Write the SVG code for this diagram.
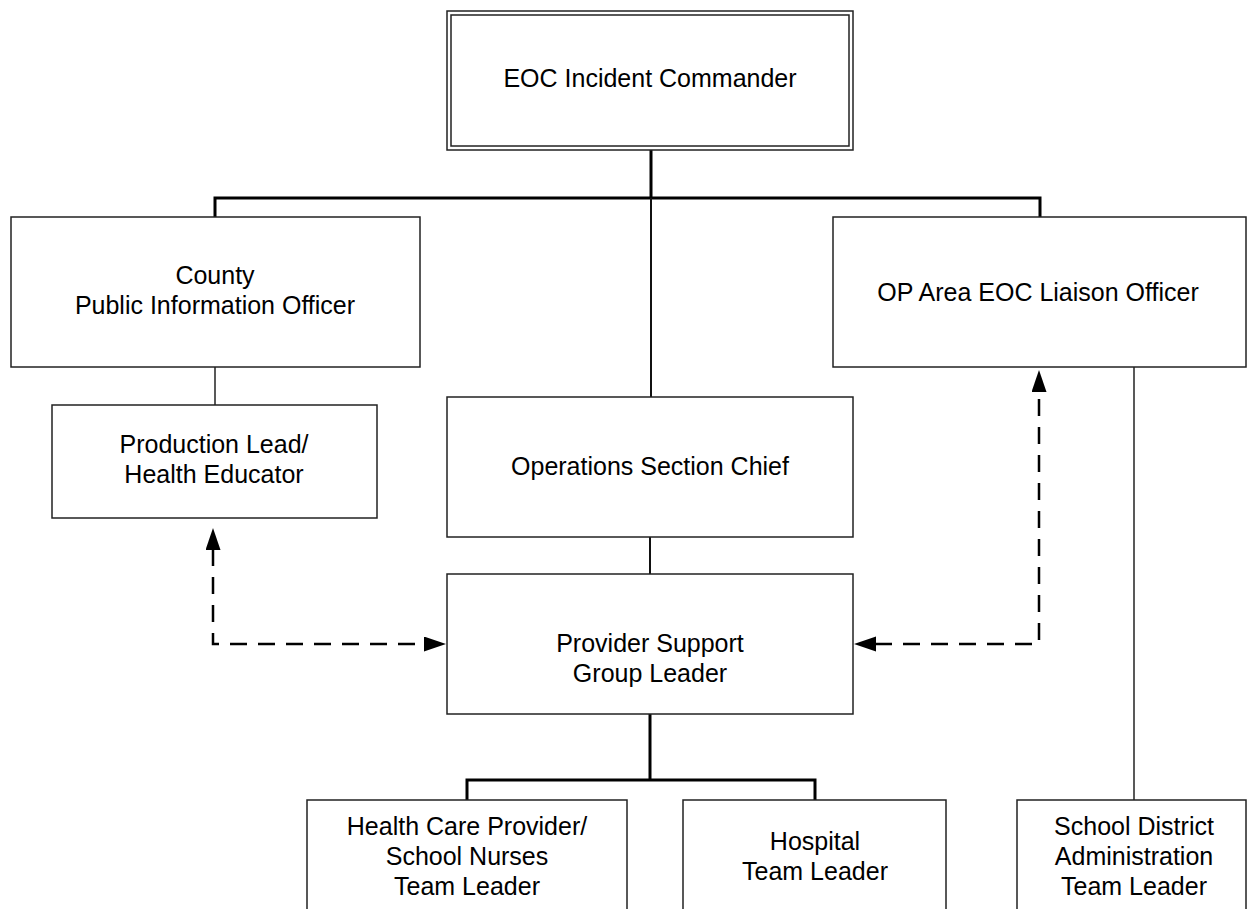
<svg xmlns="http://www.w3.org/2000/svg" width="1247" height="909" viewBox="0 0 1247 909">
  <style>
    .box { fill: #ffffff; stroke: #222222; stroke-width: 1.5; }
    .label { font-family: "Liberation Sans", Arial, sans-serif; font-size: 25px; fill: #000000; text-anchor: middle; }
    .thick { fill: none; stroke: #000000; stroke-width: 3; }
    .mid { fill: none; stroke: #111111; stroke-width: 2; }
    .thin { fill: none; stroke: #222222; stroke-width: 1.5; }
    .dash { fill: none; stroke: #000000; stroke-width: 2.5; stroke-dasharray: 17 11; marker-start: url(#head); marker-end: url(#head); }
  </style>
  <defs>
    <marker id="head" markerUnits="userSpaceOnUse" markerWidth="24" markerHeight="16" refX="1" refY="7.5" orient="auto-start-reverse">
      <path d="M0,0 L22,7.5 L0,15 Z" fill="#000000"/>
    </marker>
  </defs>
  <rect width="1247" height="909" fill="#ffffff"/>

  <!-- connectors -->
  <g id="connectors">
    <path class="thick" d="M651,150 V198"/>
    <path class="thick" d="M215,217 V198 H1040 V217"/>
    <path class="mid" d="M651,198 V397"/>
    <path class="thin" d="M215,367 V405"/>
    <path class="mid" d="M650,537 V574"/>
    <path class="thick" d="M650,714 V780"/>
    <path class="thick" d="M467,800 V780 H815 V800"/>
    <path class="thin" d="M1134,367 V800"/>
    <path class="dash" d="M213,549 V644 H425"/>
    <path class="dash" d="M875,644 H1039 V391"/>
  </g>

  <!-- nodes -->
  <g id="eoc-incident-commander">
    <rect class="box" x="447" y="11" width="406" height="139"/>
    <rect class="box" x="451" y="15" width="398" height="131"/>
    <text class="label" x="650" y="87">EOC Incident Commander</text>
  </g>
  <g id="county-pio">
    <rect class="box" x="11" y="217" width="409" height="150"/>
    <text class="label" x="215" y="284">County</text>
    <text class="label" x="215" y="314">Public Information Officer</text>
  </g>
  <g id="op-area-liaison">
    <rect class="box" x="833" y="217" width="413" height="150"/>
    <text class="label" x="1038" y="301">OP Area EOC Liaison Officer</text>
  </g>
  <g id="production-lead">
    <rect class="box" x="52" y="405" width="325" height="113"/>
    <text class="label" x="214" y="453">Production Lead/</text>
    <text class="label" x="214" y="483">Health Educator</text>
  </g>
  <g id="operations-section-chief">
    <rect class="box" x="447" y="397" width="406" height="140"/>
    <text class="label" x="650" y="475">Operations Section Chief</text>
  </g>
  <g id="provider-support">
    <rect class="box" x="447" y="574" width="406" height="140"/>
    <text class="label" x="650" y="652">Provider Support</text>
    <text class="label" x="650" y="682">Group Leader</text>
  </g>
  <g id="health-care-provider">
    <rect class="box" x="307" y="800" width="320" height="130"/>
    <text class="label" x="467" y="835">Health Care Provider/</text>
    <text class="label" x="467" y="865">School Nurses</text>
    <text class="label" x="467" y="895">Team Leader</text>
  </g>
  <g id="hospital">
    <rect class="box" x="683" y="800" width="263" height="130"/>
    <text class="label" x="815" y="850">Hospital</text>
    <text class="label" x="815" y="880">Team Leader</text>
  </g>
  <g id="school-district">
    <rect class="box" x="1017" y="800" width="229" height="130"/>
    <text class="label" x="1134" y="835">School District</text>
    <text class="label" x="1134" y="865">Administration</text>
    <text class="label" x="1134" y="895">Team Leader</text>
  </g>
</svg>
